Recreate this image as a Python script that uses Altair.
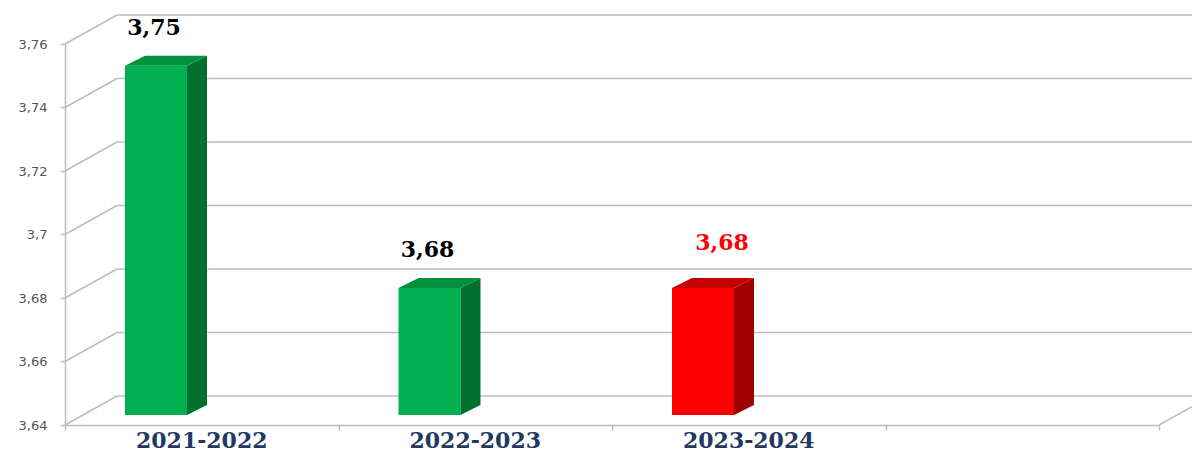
import altair as alt
import pandas as pd

# ---- data ----
categories = ["2021-2022", "2022-2023", "2023-2024"]
values = [3.75, 3.68, 3.68]
value_labels = ["3,75", "3,68", "3,68"]
y_ticks = [3.64, 3.66, 3.68, 3.70, 3.72, 3.74, 3.76]
n_slots = 4  # three bars and one empty slot

front_colors = ["#00B050", "#00B050", "#FF0000"]
side_colors = ["#00702F", "#00702F", "#A00000"]
top_colors = ["#00913D", "#00913D", "#C40000"]
label_colors = ["#000000", "#000000", "#FF0000"]

# ---- geometry / style ----
W, H = 1094, 381
Y0, Y1 = y_ticks[0], y_ticks[-1]
px_x = n_slots / W
px_y = (Y1 - Y0) / H
wall_dx, wall_dy = 52 * px_x, 29 * px_y
bar_l, bar_r = 60 * px_x, 122 * px_x
bar_dx, bar_dy = 20 * px_x, 10 * px_y
lift = 10 * px_y
GRID = "#bdbdbd"

xs = alt.Scale(domain=[0, n_slots], nice=False, zero=False)
ys = alt.Scale(domain=[Y0, Y1], nice=False, zero=False)

# back wall gridlines
grid_df = pd.DataFrame({"y": [v + wall_dy for v in y_ticks],
                        "x": [wall_dx] * len(y_ticks),
                        "x2": [n_slots + wall_dx + 0.2] * len(y_ticks)})
# side wall diagonals
diag_df = pd.DataFrame({"x": [0.0] * len(y_ticks), "x2": [wall_dx] * len(y_ticks),
                        "y": y_ticks, "y2": [v + wall_dy for v in y_ticks]})
# floor right edge
floor_df = pd.DataFrame({"x": [float(n_slots)], "x2": [n_slots + wall_dx],
                         "y": [Y0], "y2": [Y0 + wall_dy]})

face_rows, side_rows, top_rows, lab_rows, cat_rows = [], [], [], [], []
for i, (c, v) in enumerate(zip(categories, values)):
    x1, x2 = i + bar_l, i + bar_r
    b, t = Y0 + lift, v + lift
    face_rows.append({"x": x1, "x2": x2, "y": b, "y2": t, "c": front_colors[i]})
    side_rows += [{"id": i, "x": x2, "lo": b, "hi": t, "c": side_colors[i]},
                  {"id": i, "x": x2 + bar_dx, "lo": b + bar_dy, "hi": t + bar_dy, "c": side_colors[i]}]
    top_rows += [{"id": i, "x": x1, "lo": t, "hi": t, "c": top_colors[i]},
                 {"id": i, "x": x1 + bar_dx, "lo": t, "hi": t + bar_dy, "c": top_colors[i]},
                 {"id": i, "x": x2, "lo": t, "hi": t + bar_dy, "c": top_colors[i]},
                 {"id": i, "x": x2 + bar_dx, "lo": t + bar_dy, "hi": t + bar_dy, "c": top_colors[i]}]
    lab_rows.append({"x": (x1 + x2) / 2, "y": t + bar_dy, "text": value_labels[i],
                     "c": label_colors[i]})
    cat_rows.append({"x": i + 0.5, "y": Y0, "text": c})

face_df = pd.DataFrame(face_rows)
side_df = pd.DataFrame(side_rows)
top_df = pd.DataFrame(top_rows)
lab_df = pd.DataFrame(lab_rows)
cat_df = pd.DataFrame(cat_rows)

base_axes = alt.Chart(face_df).mark_rect(opacity=0).encode(
    x=alt.X("x:Q", scale=xs,
            axis=alt.Axis(values=list(range(n_slots + 1)), labels=False, grid=False,
                          ticks=True, tickSize=5, tickColor=GRID, tickWidth=1.5,
                          domainColor=GRID, domainWidth=1.5, title=None)),
    y=alt.Y("y:Q", scale=ys,
            axis=alt.Axis(values=y_ticks, grid=False, tickSize=5, tickColor=GRID,
                          tickWidth=1.5, domainColor=GRID, domainWidth=1.5,
                          labelFont="DejaVu Sans", labelFontSize=13,
                          labelColor="#555555", labelPadding=13, title=None,
                          labelExpr="replace(format(datum.value, '.2~f'), '.', ',')")),
)

grid = alt.Chart(grid_df).mark_rule(color=GRID, strokeWidth=1.5).encode(
    x=alt.X("x:Q", scale=xs), x2="x2:Q", y=alt.Y("y:Q", scale=ys))
diag = alt.Chart(diag_df).mark_rule(color=GRID, strokeWidth=1.5).encode(
    x=alt.X("x:Q", scale=xs), x2="x2:Q", y=alt.Y("y:Q", scale=ys), y2="y2:Q")
floor = alt.Chart(floor_df).mark_rule(color=GRID, strokeWidth=1.5).encode(
    x=alt.X("x:Q", scale=xs), x2="x2:Q", y=alt.Y("y:Q", scale=ys), y2="y2:Q")

faces = alt.Chart(face_df).mark_rect().encode(
    x=alt.X("x:Q", scale=xs), x2="x2:Q",
    y=alt.Y("y:Q", scale=ys), y2="y2:Q",
    color=alt.Color("c:N", scale=None))
sides = alt.Chart(side_df).mark_area(interpolate="linear").encode(
    x=alt.X("x:Q", scale=xs),
    y=alt.Y("lo:Q", scale=ys, stack=None), y2="hi:Q",
    color=alt.Color("c:N", scale=None), detail="id:N")
tops = alt.Chart(top_df).mark_area(interpolate="linear").encode(
    x=alt.X("x:Q", scale=xs),
    y=alt.Y("lo:Q", scale=ys, stack=None), y2="hi:Q",
    color=alt.Color("c:N", scale=None), detail="id:N")

lab_black = alt.Chart(lab_df[lab_df["c"] == "#000000"]).mark_text(
    font="DejaVu Serif", fontWeight="bold", fontSize=22, baseline="alphabetic",
    dy=-21, dx=-2).encode(
    x=alt.X("x:Q", scale=xs), y=alt.Y("y:Q", scale=ys), text="text:N",
    color=alt.Color("c:N", scale=None))
lab_red = alt.Chart(lab_df[lab_df["c"] != "#000000"]).mark_text(
    font="DejaVu Serif", fontWeight="bold", fontSize=22, baseline="alphabetic",
    dy=-28, dx=19).encode(
    x=alt.X("x:Q", scale=xs), y=alt.Y("y:Q", scale=ys), text="text:N",
    color=alt.Color("c:N", scale=None))

cats = alt.Chart(cat_df).mark_text(
    font="DejaVu Serif", fontWeight="bold", fontSize=22, baseline="alphabetic",
    dy=23, color="#1F3864").encode(
    x=alt.X("x:Q", scale=xs), y=alt.Y("y:Q", scale=ys), text="text:N")

chart = alt.layer(base_axes, grid, diag, floor, faces, sides, tops,
                  lab_black, lab_red, cats).properties(
    width=W, height=H,
    autosize=alt.AutoSizeParams(type="none"),
    padding={"left": 57, "top": 36, "right": 33, "bottom": 29},
).configure_view(stroke=None)

chart.save("out.html", embed_options={"renderer": "svg", "actions": False})
